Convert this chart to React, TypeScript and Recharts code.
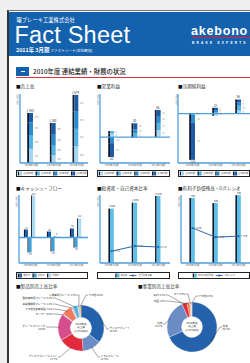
import React from 'react';
import {
  ComposedChart, Bar, Line, XAxis, YAxis, ReferenceLine, LabelList, PieChart, Pie, Cell,
} from 'recharts';

// ---------- data ----------
const years = ['2009年3月期', '2010年3月期', '2011年3月期'];
const quarterNames = ['第1四半期', '第2四半期', '第3四半期', '第4四半期'];

// 売上高 (億円)
const salesQ1 = [410, 220, 480];
const salesQ2 = [400, 280, 510];
const salesQ3 = [370, 320, 500];
const salesQ4 = [270, 340, 484];

// 営業利益 (億円)
const opIncQ1 = [8, -2, 16];
const opIncQ2 = [6, 8, 17];
const opIncQ3 = [-14, 10, 16];
const opIncQ4 = [-32, 14, 14];

// 当期純利益 (億円)
const netIncQ1 = [2, -5, 8];
const netIncQ2 = [-3, 4, 12];
const netIncQ3 = [-20, 5, 9];
const netIncQ4 = [-94, 6, 7];

// キャッシュ・フロー (億円)
const cfNames = ['営業CF', '投資CF', '財務CF'];
const cfOperating = [47, 35, 53];
const cfInvesting = [-88, -82, -59];
const cfFinancing = [247, 6, 112];

// 総資産・自己資本比率
const totalAssets = [1680, 1865, 2070];
const equityRatio = [17.5, 25.0, 23.5];

// 有利子負債残高・D/Eレシオ
const interestDebt = [765, 705, 798];
const deRatio = [1.03, 0.76, 0.79];

// 製品別売上高比率 (%)
const productNames = ['ディスクブレーキ', 'ドラムブレーキ', 'ディスクブレーキパッド', 'ブレーキライニング', 'センサー', 'その他自動車部品', '産業機械用ブレーキ', '鉄道車両用ブレーキ', '二輪車用ブレーキ', 'その他'];
const productShares = [35.6, 12.9, 17.7, 18.8, 0.8, 7.0, 1.4, 3.4, 1.6, 0.8];

// 事業別売上高比率 (%)
const regionNames = ['日本', '北米', '欧州', '中国', 'タイ', 'その他'];
const regionShares = [68.4, 25.1, 3.2, 1.8, 0.9, 0.6];

// ---------- styles ----------
const JP = "'Noto Sans CJK JP', 'Noto Sans', sans-serif";
const SANS = "'Liberation Sans', Arial, sans-serif";
const BLUE = '#1461ae';
const AXIS = '#4f9fdc';
const SHADOW = '#16192a';
const quarterColors = ['#a6d7f0', '#52b3e6', '#2a8ccf', '#1c5ca6'];
const cfColors = ['#1f62ab', '#3aa2df', '#a9dcf4'];
const barLight = '#5bbfe9';
const lineBlue = '#2767b0';
const productColors = ['#2463ab', '#6c8cc6', '#e12a3c', '#d64d8d', '#f2a3c4', '#ec7b5f', '#f6c0a8', '#4db4e4', '#b8c2cc', '#f0a040'];
const regionColors = ['#2463ab', '#6c8cc6', '#e12a3c', '#f07c3a', '#f4b0b0', '#c8c8c8'];

// label anchor offsets from each donut's centre
const productLabelAt: [number, number][] = [[26, 1], [17, 29], [-21, 29], [-33, -1], [-26, -14], [-26, -19], [-26, -24], [-26, -30], [-2, -33], [5, -33]];
const regionLabelAt: [number, number][] = [[28, 0], [-27, -3], [-24, -32], [-24, -26], [-4, -33], [4, -31]];

const qKeys = ['q1', 'q2', 'q3', 'q4'];
const fmt = (v: any) => Number(v).toLocaleString('en-US');

function quarterRows(q: number[][]) {
  return years.map((year, i) => {
    const vals = q.map((s) => s[i]);
    const total = vals.reduce((a, b) => a + b, 0);
    const sign = total >= 0 ? 1 : -1;
    let outer = '';
    vals.forEach((v, k) => { if (v * sign > 0) outer = qKeys[k]; });
    return { year, q1: vals[0], q2: vals[1], q3: vals[2], q4: vals[3], total, outer };
  });
}

const salesRows = quarterRows([salesQ1, salesQ2, salesQ3, salesQ4]);
const opRows = quarterRows([opIncQ1, opIncQ2, opIncQ3, opIncQ4]);
const netRows = quarterRows([netIncQ1, netIncQ2, netIncQ3, netIncQ4]);
const cfRows = years.map((year, i) => ({ year, op: cfOperating[i], inv: cfInvesting[i], fin: cfFinancing[i] }));
const assetRows = years.map((year, i) => ({ year, value: totalAssets[i], ratio: equityRatio[i] }));
const debtRows = years.map((year, i) => ({ year, value: interestDebt[i], ratio: deRatio[i] }));
const productRows = productNames.map((name, i) => ({ name, value: productShares[i] }));
const regionRows = regionNames.map((name, i) => ({ name, value: regionShares[i] }));

const shadowBar = (sw: number) => (p: any) => {
  const { x, y, width, height, fill } = p;
  if (!height || !width) return <g />;
  const top = height < 0 ? y + height : y;
  const h = Math.abs(height);
  return (
    <g>
      <rect x={x - sw} y={top} width={sw} height={h} fill={SHADOW} />
      <rect x={x} y={top} width={width} height={h} fill={fill} />
    </g>
  );
};

const totalLabel = (rows: any[], key: string) => (p: any) => {
  const row = rows[p.index];
  if (!row || row.outer !== key) return <g />;
  const vb = p.viewBox ?? p;
  const top = Math.min(vb.y, vb.y + vb.height);
  const bottom = Math.max(vb.y, vb.y + vb.height);
  const neg = row.total < 0;
  return (
    <text x={vb.x + vb.width / 2 - 0.8} y={neg ? bottom + 3.2 : top - 1.2} textAnchor="middle" fontSize={2.9} fill="#333">
      {fmt(row.total)}
    </text>
  );
};

const xAxisProps = {
  dataKey: 'year', height: 5, tickLine: false, tickSize: 0, interval: 0, tickMargin: 1.2,
  axisLine: { stroke: AXIS, strokeWidth: 1.3 }, tick: { fontSize: 2.4, fill: '#666' },
};
// extra room under the x axis so the tick text is not clipped
const chartMargin = { top: 4, right: 2, bottom: 3, left: 4 };

function QuarterChart({ rows, domain, left, top, width, zero, pad = 0 }: any) {
  return (
    <div style={{ position: 'absolute', left, top }}>
      <ComposedChart width={width} height={81} data={rows} stackOffset="sign" margin={chartMargin}>
        <XAxis {...xAxisProps} padding={{ left: pad, right: 0 }} />
        <YAxis width={1} domain={domain} tick={false} tickLine={false} axisLine={{ stroke: AXIS, strokeWidth: 1.3 }} allowDataOverflow />
        {zero && <ReferenceLine y={0} stroke={AXIS} strokeWidth={1.3} />}
        {qKeys.map((k, i) => (
          <Bar key={k} dataKey={k} stackId="q" fill={quarterColors[i]} barSize={4} shape={shadowBar(1.8)} isAnimationActive={false}>
            <LabelList dataKey={k} position="right" offset={1.5} fontSize={2.2} fill="#888" formatter={fmt} />
            <LabelList dataKey={k} content={totalLabel(rows, k)} />
          </Bar>
        ))}
      </ComposedChart>
    </div>
  );
}

function BarLineChart({ rows, domain, rDomain, left, top, width, pct, pad = 0 }: any) {
  return (
    <div style={{ position: 'absolute', left, top }}>
      <ComposedChart width={width} height={80} data={rows} margin={chartMargin}>
        <XAxis {...xAxisProps} padding={{ left: pad, right: 0 }} />
        <YAxis yAxisId="l" width={1} domain={domain} tick={false} tickLine={false} axisLine={{ stroke: AXIS, strokeWidth: 1.3 }} />
        <YAxis yAxisId="r" orientation="right" hide domain={rDomain} />
        <Bar yAxisId="l" dataKey="value" fill={barLight} barSize={3.8} shape={shadowBar(1.6)} isAnimationActive={false}>
          <LabelList dataKey="value" position="top" offset={1.2} fontSize={2.6} fill="#333" formatter={fmt} />
        </Bar>
        <Line yAxisId="r" dataKey="ratio" stroke={lineBlue} strokeWidth={1} dot={{ r: 1.1, fill: lineBlue, stroke: 'none' }} isAnimationActive={false}>
          <LabelList dataKey="ratio" position="right" offset={2} fontSize={2.3} fill="#666" formatter={(v: any) => (pct ? `${Number(v).toFixed(1)}%` : `${Number(v).toFixed(2)}倍`)} />
        </Line>
      </ComposedChart>
    </div>
  );
}

function CashFlowChart({ left, top, width }: any) {
  const keys = ['op', 'inv', 'fin'];
  return (
    <div style={{ position: 'absolute', left, top }}>
      <ComposedChart width={width} height={80} data={cfRows} margin={chartMargin} barGap={0.6}>
        <XAxis {...xAxisProps} />
        <YAxis width={1} domain={[-150, 250]} tick={false} tickLine={false} axisLine={{ stroke: AXIS, strokeWidth: 1.3 }} />
        <ReferenceLine y={0} stroke={AXIS} strokeWidth={1.3} />
        {keys.map((k, i) => (
          <Bar key={k} dataKey={k} fill={cfColors[i]} barSize={3} shape={shadowBar(1.1)} isAnimationActive={false}>
            <LabelList dataKey={k} position="top" offset={1} fontSize={2.2} fill="#333" formatter={fmt} />
          </Bar>
        ))}
      </ComposedChart>
    </div>
  );
}

const RAD = Math.PI / 180;
const pieLabel = (at: [number, number][]) => (p: any) => {
  const i = p.index;
  const [dx, dy] = at[i];
  const ex = p.cx + dx;
  const ey = p.cy + dy;
  const sx = p.cx + (p.outerRadius - 1.5) * Math.cos(-p.midAngle * RAD);
  const sy = p.cy + (p.outerRadius - 1.5) * Math.sin(-p.midAngle * RAD);
  const dir = dx < 0 ? -1 : 1;
  const tx = ex + dir * 2;
  const anchor = dir < 0 ? 'end' : 'start';
  const share = `${Number(p.value).toFixed(1)}%`;
  return (
    <g>
      <polyline points={`${sx},${sy} ${ex},${ey} ${tx},${ey}`} fill="none" stroke="#222" strokeWidth={0.4} />
      {p.value >= 10 ? (
        <text x={tx + dir * 0.6} y={ey - 0.4} textAnchor={anchor} fontSize={2.6} fill="#333">
          <tspan x={tx + dir * 0.6}>{p.name}</tspan>
          <tspan x={tx + dir * 0.6} dy={3.2}>{share}</tspan>
        </text>
      ) : (
        <text x={tx + dir * 0.6} y={ey + 0.9} textAnchor={anchor} fontSize={2.6} fill="#333">{`${p.name} ${share}`}</text>
      )}
    </g>
  );
};

function Donut({ rows, colors, at, left, top, width, height, cx, cy, r }: any) {
  return (
    <div style={{ position: 'absolute', left, top }}>
      <PieChart width={width} height={height} margin={{ top: 0, right: 0, bottom: 0, left: 0 }}>
        <Pie data={rows} dataKey="value" nameKey="name" cx={cx} cy={cy} innerRadius={10.5} outerRadius={r}
          startAngle={90} endAngle={-270} stroke="#fff" strokeWidth={0.3} label={pieLabel(at)} labelLine={false}
          isAnimationActive={false}>
          {rows.map((_: any, i: number) => <Cell key={i} fill={colors[i]} />)}
        </Pie>
      </PieChart>
      <svg style={{ position: 'absolute', left: cx - 10, top: cy - 6 }} width={20} height={12}>
        {['2010年度', '売上高', '(1,974億円)'].map((t, i) => (
          <text key={t} x={10} y={3 + i * 3.3} textAnchor="middle" fontSize={2.7} fill="#333" fontFamily={JP}>{t}</text>
        ))}
      </svg>
    </div>
  );
}

function Title({ left, top, children }: any) {
  return (
    <div style={{ position: 'absolute', left, top, fontSize: 4.6, lineHeight: '5px', color: '#333', whiteSpace: 'nowrap' }}>
      <span style={{ color: '#111' }}>■</span>{children}
    </div>
  );
}

function Units({ left, top }: any) {
  return (
    <div style={{ position: 'absolute', left, top, fontSize: 2.2, color: '#888', writingMode: 'vertical-rl', whiteSpace: 'nowrap' }}>
      (単位:億円)
    </div>
  );
}

// legend drawn as a small svg so the tiny text keeps its size
function LegendBox({ left, top, width, items }: any) {
  const fs = 2.2;
  const textW = (s: string) => [...s].reduce((a, c) => a + (c.charCodeAt(0) > 255 ? fs : fs * 0.6), 0);
  const itemW = items.map((it: any) => (it.kind === 'line' ? 8 : 4.4) + 1 + textW(it.label));
  const gap = 2.2;
  const total = itemW.reduce((a: number, b: number) => a + b, 0) + gap * (items.length - 1);
  let x = items.length < 3 ? (width - total) / 2 : 1.8;
  return (
    <svg style={{ position: 'absolute', left, top }} width={width} height={7}>
      <rect x={0.5} y={0.5} width={width - 1} height={6} fill="#fff" stroke="#222" strokeWidth={1} />
      {items.map((it: any, i: number) => {
        const x0 = x;
        x += itemW[i] + gap;
        const sw = it.kind === 'line' ? 8 : 4.4;
        return (
          <g key={it.label}>
            {it.kind === 'line' ? (
              <g>
                <line x1={x0} x2={x0 + 7} y1={3.5} y2={3.5} stroke={it.color} strokeWidth={0.9} />
                <circle cx={x0 + 3.5} cy={3.5} r={1.1} fill={it.color} />
              </g>
            ) : (
              <g>
                <rect x={x0} y={1.5} width={1.4} height={4} fill={SHADOW} />
                <rect x={x0 + 1.4} y={1.5} width={2.8} height={4} fill={it.color} />
              </g>
            )}
            <text x={x0 + sw + 1} y={4.3} fontSize={fs} fill="#555" fontFamily={JP}>{it.label}</text>
          </g>
        );
      })}
    </svg>
  );
}

export default function App() {
  const qItems = quarterNames.map((label, i) => ({ label, color: quarterColors[i] }));
  const cfItems = cfNames.map((label, i) => ({ label, color: cfColors[i] }));
  return (
    <div style={{ position: 'absolute', left: 0, top: 0, width: 250, height: 363, overflow: 'hidden', background: '#efefef', fontFamily: JP }}>
      {/* page */}
      <div style={{ position: 'absolute', left: 7, top: 10, width: 260, height: 360, background: '#fff', borderLeft: '2px solid #333', borderTop: '1px solid #777' }} />

      {/* header */}
      <div style={{ position: 'absolute', left: 9, top: 11.5, width: 241, height: 44.5, background: BLUE }} />
      <div style={{ position: 'absolute', left: 16.5, top: 16.5, fontSize: 5.3, lineHeight: '6px', color: '#fff', whiteSpace: 'nowrap' }}>曙ブレーキ工業株式会社</div>
      <div style={{ position: 'absolute', left: 14.5, top: 27.3, fontSize: 23.5, lineHeight: '17px', color: '#fff', fontFamily: SANS, whiteSpace: 'nowrap', letterSpacing: 0.2 }}>Fact Sheet</div>
      <div style={{ position: 'absolute', left: 16, top: 47, fontSize: 5.4, lineHeight: '6px', color: '#fff', whiteSpace: 'nowrap', fontWeight: 700 }}>
        2011年 3月期 <span style={{ fontSize: 3.6, fontWeight: 400 }}>ファクトシート(会社概況)</span>
      </div>
      <div style={{ position: 'absolute', left: 191, top: 25, fontSize: 12.5, lineHeight: '12.5px', color: '#fff', fontFamily: SANS, fontWeight: 700, letterSpacing: 0.8, whiteSpace: 'nowrap' }}>akebono</div>
      <div style={{ position: 'absolute', left: 192, top: 37, width: 60, height: 1.3, background: '#e0203a' }} />
      <div style={{ position: 'absolute', left: 192, top: 41, fontSize: 3.2, lineHeight: '4px', color: '#fff', fontFamily: SANS, fontWeight: 700, letterSpacing: 2.2, whiteSpace: 'nowrap' }}>BRAKE EXPERTS</div>

      {/* section heading */}
      <div style={{ position: 'absolute', left: 16, top: 66.5, width: 13, height: 9.5, background: BLUE }}>
        <div style={{ position: 'absolute', left: 4.5, top: 4.3, width: 4, height: 0.8, background: '#fff' }} />
      </div>
      <div style={{ position: 'absolute', left: 33, top: 67.5, fontSize: 6.4, lineHeight: '7px', color: '#222', fontWeight: 500, whiteSpace: 'nowrap' }}>2010年度 連結業績・財務の状況</div>
      <div style={{ position: 'absolute', left: 16, top: 77, width: 234, height: 1, background: '#e0303f' }} />

      {/* row 1 */}
      <Title left={16} top={83.5}>売上高</Title>
      <Title left={97} top={83.5}>営業利益</Title>
      <Title left={178} top={83.5}>当期純利益</Title>
      <Units left={15.5} top={94} />
      <Units left={96} top={94} />
      <Units left={174.5} top={94} />
      <QuarterChart rows={salesRows} domain={[0, 2000]} left={15} top={90} width={75} />
      <QuarterChart rows={opRows} domain={[-60, 100]} left={95} top={90} width={77} zero />
      <QuarterChart rows={netRows} domain={[-125, 50]} left={173} top={90} width={79} zero pad={3} />
      <LegendBox left={16} top={170} width={72} items={qItems} />
      <LegendBox left={97} top={170} width={73} items={qItems} />
      <LegendBox left={178} top={170} width={72} items={qItems} />

      {/* row 2 */}
      <Title left={16} top={185.5}>キャッシュ・フロー</Title>
      <Title left={97} top={185.5}>総資産・自己資本比率</Title>
      <Title left={178} top={185.5}>有利子負債残高・D/Eレシオ</Title>
      <Units left={14.5} top={196} />
      <Units left={96} top={196} />
      <Units left={177} top={196} />
      <CashFlowChart left={14} top={191} width={76} />
      <BarLineChart rows={assetRows} domain={[0, 2100]} rDomain={[0, 100]} left={95} top={191} width={77} pct />
      <BarLineChart rows={debtRows} domain={[0, 800]} rDomain={[0, 2]} left={176} top={191} width={76} />
      <LegendBox left={16} top={272} width={72} items={cfItems} />
      <LegendBox left={97} top={272} width={73} items={[{ label: '総資産', color: barLight }, { label: '自己資本比率', color: lineBlue, kind: 'line' }]} />
      <LegendBox left={178} top={272} width={72} items={[{ label: '有利子負債残高', color: barLight }, { label: 'D/Eレシオ', color: lineBlue, kind: 'line' }]} />

      {/* row 3 */}
      <Title left={16} top={283.5}>製品別売上高比率</Title>
      <Title left={138} top={283.5}>事業別売上高比率</Title>
      <Donut rows={productRows} colors={productColors} at={productLabelAt} left={9} top={289} width={120} height={74} cx={72} cy={39} r={23} />
      <Donut rows={regionRows} colors={regionColors} at={regionLabelAt} left={128} top={289} width={122} height={74} cx={64} cy={38} r={25} />
    </div>
  );
}
